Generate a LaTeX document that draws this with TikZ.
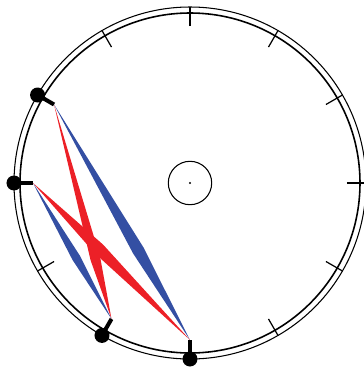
\documentclass[tikz,border=0pt]{standalone}
\usepackage{tikz}
\usetikzlibrary{calc}
\definecolor{chordRed}{RGB}{236, 32, 39}
\definecolor{chordBlue}{RGB}{52, 79, 163}

\begin{document}
\begin{tikzpicture}[
    x=0.02cm, y=0.02cm,
    outerring/.style={draw=black, line width=0.6pt},
    innerring/.style={draw=black, line width=0.9pt},
    tickmark/.style={draw=black, line width=0.7pt},
    post/.style={draw=black, line width=2.3pt},
    pin/.style={circle, fill=black, inner sep=0pt, minimum size=0.3cm},
    hub/.style={draw=black, line width=0.6pt}
]
\useasboundingbox (-190,-186) rectangle (174,183);

% --- Dial: double ring and hub ---------------------------------------------
\draw[outerring] (0,0) circle (176);
\draw[innerring] (0,0) circle (170);
\draw[hub] (0,0) circle (21.7);
\fill (0,0) circle (1.1);

% --- Tick marks (free positions) -------------------------------------------
\foreach \a in {0,30,60,90,120,210,300,330}
    \draw[tickmark] (\a:157) -- (\a:176);

% --- Pins with their posts --------------------------------------------------
\foreach \a/\n in {150/a, 180/b, 240/c, 270/d} {
    \coordinate (end\n) at (\a:157);
    \node[pin] (pin\n) at (\a:176) {};
    \draw[post] (pin\n.center) -- (end\n);
}

% --- Spindles between the pins ----------------------------------------------
% blue: a -> d and b -> c
\fill[chordBlue] (enda) -- ($(enda)!0.62!(endd)!0.12cm!90:(endd)$) -- (endd)
    -- ($(enda)!0.62!(endd)!0.12cm!-90:(endd)$) -- cycle;
\fill[chordBlue] (endb) -- ($(endb)!0.55!(endc)!0.085cm!90:(endc)$) -- (endc)
    -- ($(endb)!0.55!(endc)!0.085cm!-90:(endc)$) -- cycle;
% red: a -> c and b -> d
\fill[chordRed] (enda) -- ($(enda)!0.72!(endc)!0.1cm!90:(endc)$) -- (endc)
    -- ($(enda)!0.72!(endc)!0.1cm!-90:(endc)$) -- cycle;
\fill[chordRed] (endb) -- ($(endb)!0.42!(endd)!0.12cm!90:(endd)$) -- (endd)
    -- ($(endb)!0.42!(endd)!0.12cm!-90:(endd)$) -- cycle;

\end{tikzpicture}
\end{document}
